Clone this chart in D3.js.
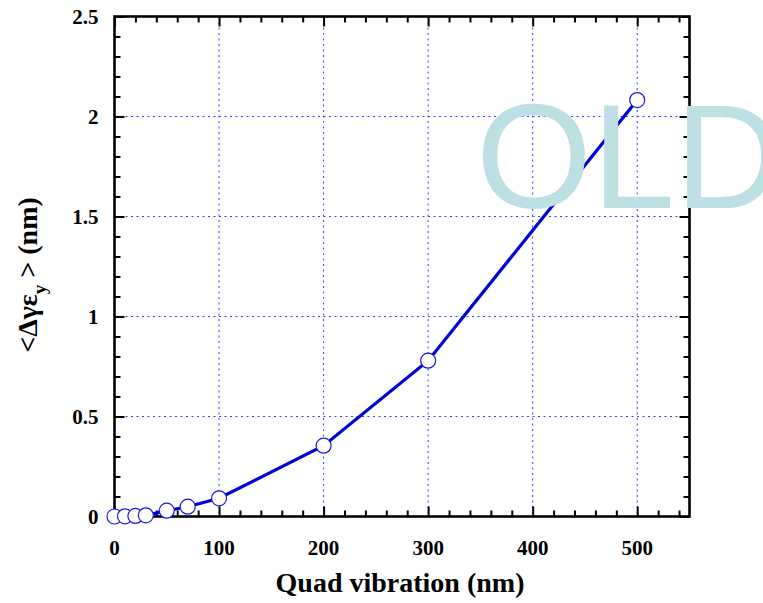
<!DOCTYPE html>
<html>
<head>
<meta charset="utf-8">
<script src="https://cdn.jsdelivr.net/npm/d3@7"></script>
<style>
  html, body { margin: 0; padding: 0; background: #fff; }
  svg { display: block; }
</style>
</head>
<body>
<div id="chart"></div>
<script>
// ---- data ----
const vibration = [0, 10, 20, 30, 50, 70, 100, 200, 300, 500];          // nm
const emitGrowth = [0, 0.001, 0.003, 0.006, 0.029, 0.049, 0.091, 0.354, 0.779, 2.082]; // nm
const xTicks = [0, 100, 200, 300, 400, 500];
const yTicks = [0, 0.5, 1, 1.5, 2, 2.5];
const yTickLabels = ["0", "0.5", "1", "1.5", "2", "2.5"];
const xTitle = "Quad vibration (nm)";
const watermark = "OLD";

const W = 763, H = 603;
const margin = { left: 114.5, right: W - 689.5, top: 16.5, bottom: H - 516.5 };
const iw = W - margin.left - margin.right;
const ih = H - margin.top - margin.bottom;

const svg = d3.select("#chart").append("svg").attr("width", W).attr("height", H);
const g = svg.append("g").attr("transform", `translate(${margin.left},${margin.top})`);

const x = d3.scaleLinear().domain([0, 550]).range([0, iw]);
const y = d3.scaleLinear().domain([0, 2.5]).range([ih, 0]);

// grid
const gridColor = "#3c3cff";
g.append("g").selectAll("line").data(xTicks.filter(d => d > 0)).join("line")
  .attr("x1", d => x(d)).attr("x2", d => x(d)).attr("y1", 0).attr("y2", ih)
  .attr("stroke", gridColor).attr("stroke-width", 1).attr("stroke-dasharray", "2,3.5");
g.append("g").selectAll("line").data(yTicks.filter(d => d > 0 && d < 2.5)).join("line")
  .attr("y1", d => y(d)).attr("y2", d => y(d)).attr("x1", 0).attr("x2", iw)
  .attr("stroke", gridColor).attr("stroke-width", 1).attr("stroke-dasharray", "2,3.5");

// watermark (extends past the right edge, as in the original)
svg.append("text").attr("x", 476).attr("y", 208)
  .attr("font-family", "'Liberation Sans', Arial, sans-serif")
  .attr("font-size", 149).attr("fill", "#bce0e3").text(watermark);

// ticks (inside, on all sides)
const minorX = d3.range(0, 551, 20).filter(v => v % 100 !== 0);
const minorY = d3.range(0, 26, 1).map(v => v / 10).filter(v => Math.round(v * 10) % 5 !== 0);
function tickAxes() {
  const bMaj = g.append("g").attr("transform", `translate(0,${ih})`)
    .call(d3.axisBottom(x).tickValues(xTicks).tickSize(-10).tickFormat(""));
  const bMin = g.append("g").attr("transform", `translate(0,${ih})`)
    .call(d3.axisBottom(x).tickValues(minorX).tickSize(-6).tickFormat(""));
  const tMaj = g.append("g")
    .call(d3.axisTop(x).tickValues(xTicks).tickSize(-10).tickFormat(""));
  const tMin = g.append("g")
    .call(d3.axisTop(x).tickValues(minorX).tickSize(-6).tickFormat(""));
  const lMaj = g.append("g")
    .call(d3.axisLeft(y).tickValues(yTicks).tickSize(-10).tickFormat(""));
  const lMin = g.append("g")
    .call(d3.axisLeft(y).tickValues(minorY).tickSize(-6).tickFormat(""));
  const rMaj = g.append("g").attr("transform", `translate(${iw},0)`)
    .call(d3.axisRight(y).tickValues(yTicks).tickSize(-10).tickFormat(""));
  const rMin = g.append("g").attr("transform", `translate(${iw},0)`)
    .call(d3.axisRight(y).tickValues(minorY).tickSize(-6).tickFormat(""));
  [bMaj, bMin, tMaj, tMin, lMaj, lMin, rMaj, rMin].forEach(s => {
    s.select(".domain").remove();
    s.selectAll(".tick line").attr("stroke", "#000").attr("stroke-width", 2);
  });
}
tickAxes();

// frame
g.append("rect").attr("x", 0).attr("y", 0).attr("width", iw).attr("height", ih)
  .attr("fill", "none").attr("stroke", "#000").attr("stroke-width", 2.6);

// tick labels
const labelFont = "'Liberation Serif', 'Times New Roman', serif";
g.append("g").selectAll("text").data(xTicks).join("text")
  .attr("x", d => x(d)).attr("y", ih + 38)
  .attr("text-anchor", "middle").attr("font-family", labelFont)
  .attr("font-weight", "bold").attr("font-size", 21).text(d => d);
g.append("g").selectAll("text").data(yTicks).join("text")
  .attr("x", -16).attr("y", d => y(d) + 7)
  .attr("text-anchor", "end").attr("font-family", labelFont)
  .attr("font-weight", "bold").attr("font-size", 21).text((d, i) => yTickLabels[i]);

// axis titles
svg.append("text").attr("x", 400).attr("y", 592)
  .attr("text-anchor", "middle").attr("font-family", labelFont)
  .attr("font-weight", "bold").attr("font-size", 28).text(xTitle);

const yt = svg.append("text")
  .attr("transform", "translate(37,275) rotate(-90)")
  .attr("text-anchor", "middle").attr("font-family", labelFont)
  .attr("font-weight", "bold").attr("font-size", 28);
yt.append("tspan").text("<Δγε");
yt.append("tspan").attr("font-size", 19).attr("dy", 9).text("y");
yt.append("tspan").attr("dy", -9).text(" > (nm)");

// data line
const pts = vibration.map((v, i) => [v, emitGrowth[i]]);
g.append("path").datum(pts)
  .attr("d", d3.line().x(d => x(d[0])).y(d => y(d[1])))
  .attr("fill", "none").attr("stroke", "#0000d8").attr("stroke-width", 3.2);

g.append("g").selectAll("circle").data(pts).join("circle")
  .attr("cx", d => x(d[0])).attr("cy", d => y(d[1])).attr("r", 7.5)
  .attr("fill", "#fff").attr("stroke", "#1a1ae6").attr("stroke-width", 1.2);
</script>
</body>
</html>
